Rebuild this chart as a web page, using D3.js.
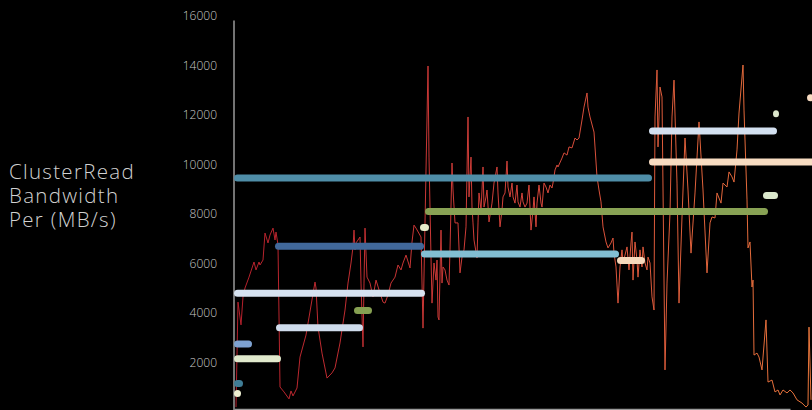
<!DOCTYPE html>
<html>
<head>
<meta charset="utf-8">
<script src="https://cdn.jsdelivr.net/npm/d3@7/dist/d3.min.js"></script>
<style>
  html, body { margin: 0; padding: 0; background: #000; }
  svg { display: block; }
  text { font-family: "Open Sans", "Noto Sans", sans-serif; }
</style>
</head>
<body>
<svg id="chart" width="812" height="410"></svg>
<script>
// Read bandwidth over time (seconds), MB/s
const lineTime = [2,4,7,9,11,15,20,22,25,26,29,31,34,36,39,41,42,44,46,50,55,57,59,63,66,72,81,82,84,88,93,98,101,106,111,114,117,119,120,121,122,126,127,129,130,131,133,136,139,142,146,149,151,154,157,161,164,167,169,172,176,178,180,182,187,189,194,195,197,198,200,202,203,204,205,207,208,209,211,213,215,216,218,219,221,224,226,228,230,232,234,235,237,238,239,240,243,244,245,247,248,249,250,252,253,255,258,260,263,264,266,268,269,271,273,274,276,278,279,281,283,284,286,288,289,291,293,295,297,299,300,302,303,305,307,308,310,312,314,316,318,319,321,323,324,328,330,333,335,338,341,343,345,348,350,353,354,356,360,363,365,367,369,372,374,377,379,380,382,384,386,388,389,391,393,395,397,398,399,401,403,404,406,408,409,411,413,414,416,418,420,421,423,424,426,428,431,433,436,438,440,443,445,448,451,454,457,461,465,469,473,476,478,481,483,487,489,493,495,498,500,503,505,509,510,513,514,516,518,519,520,523,525,528,532,534,538,541,544,546,549,553,556,559,563,568,572,574,575,577];
const lineValue = [200,4440,3520,4650,5010,5450,6060,5740,6060,5940,6140,7230,6830,7150,7430,6950,7270,6750,1010,810,530,850,650,970,2220,3110,5250,5010,3430,2380,1370,1580,1780,2790,4120,5210,6020,6670,7350,6550,6830,7070,5210,2630,5210,7430,5450,5210,4650,5330,4810,4440,4400,4730,5210,5450,5940,5740,6020,6340,5820,6870,7550,7430,7070,3390,13980,10300,6260,4400,6020,5330,6140,3840,3720,7350,5210,5860,5740,5330,5130,6550,10060,8970,7640,7640,5620,6260,6550,7480,11920,8690,10300,8280,7640,6950,6220,7640,8850,8160,8970,9900,8280,8690,8970,7680,8440,9250,9900,8850,7480,8160,8690,8850,10140,9090,8690,9250,8690,8440,9170,8490,8280,8850,8490,8280,8440,9170,7350,8160,8690,7480,8440,9170,8440,8280,9250,9090,8850,9170,9050,9250,9780,9980,9900,10260,10470,10380,10710,10670,11070,10990,11070,11800,12320,12890,12320,11920,11310,9500,8970,8490,7480,6870,6630,6830,7030,6420,5860,4400,5860,6550,6020,6340,6670,5740,6830,7270,5330,6870,6140,5450,6550,5860,6670,6020,5740,6260,6020,4650,4120,11920,13820,10710,13130,12730,1700,5210,8040,11920,13410,9250,4400,7880,11070,8970,6420,8850,11720,8970,5620,7640,7880,7840,8850,8440,9250,9090,9700,9500,9290,10590,12080,14020,12200,8570,6630,6870,5050,5330,2300,2380,2220,1700,3720,1210,1290,810,890,690,890,770,890,770,490,360,200,280,3430,490];

// Per-stage average bandwidth: start/end time and level
const segStart = [0, 41, 0, 42, 120, 0, 0, 0, 0, 186, 191, 187, 383, 415, 415, 529, 539, 573];
const segEnd   = [418, 190, 191, 129, 138, 18, 47, 9, 7, 195, 534, 385, 411, 543, 600, 544, 545, 580];
const segValue = [9450, 6700, 4800, 3400, 4100, 2750, 2150, 1150, 750, 7450, 8100, 6380, 6120, 11350, 10100, 8750, 12050, 12700];
const segPalette = ["#4f8ea8", "#41689a", "#d6e2f0", "#cfdcec", "#86a052", "#7ea2d1", "#e0e9cc", "#3f7d96", "#eef0d2",
                    "#e5ebc9", "#88a254", "#82bed2", "#f6d9bc", "#d3e0f0", "#f8dcc2", "#dbe8cc", "#dde8cc", "#f8dcc2"];

const yTicks = [2000, 4000, 6000, 8000, 10000, 12000, 14000, 16000];
const titleLines = ["ClusterRead", "Bandwidth", "Per (MB/s)"];

const svg = d3.select("#chart");
const x = d3.scaleLinear().domain([0, 556]).range([234, 790]);
const y = d3.scaleLinear().domain([0, 16000]).range([412, 16]);

// gradient for the bandwidth trace, red on the left to orange on the right
const defs = svg.append("defs");
const grad = defs.append("linearGradient")
  .attr("id", "traceGrad").attr("gradientUnits", "userSpaceOnUse")
  .attr("x1", x(0)).attr("x2", x(580)).attr("y1", 0).attr("y2", 0);
grad.append("stop").attr("offset", "0%").attr("stop-color", "#b41f2b");
grad.append("stop").attr("offset", "50%").attr("stop-color", "#d4433a");
grad.append("stop").attr("offset", "100%").attr("stop-color", "#e8763b");

// y axis labels
const yAxis = d3.axisLeft(y).tickValues(yTicks).tickSize(0).tickPadding(17).tickFormat(d3.format("d"));
const gy = svg.append("g").attr("transform", `translate(${x(0)},0)`).call(yAxis);
gy.select(".domain").remove();
gy.selectAll("text")
  .attr("fill", "#c8c8c8")
  .style("font-size", "12px")
  .style("font-weight", 300)
  .style("font-family", "'Open Sans', 'Noto Sans', sans-serif");
svg.append("line")
  .attr("x1", x(0)).attr("x2", x(0))
  .attr("y1", 20.5).attr("y2", y(0))
  .attr("stroke", "#9a9a9a").attr("stroke-width", 1.5);

// x axis baseline
const xAxis = d3.axisBottom(x).tickValues([]).tickSizeOuter(0);
const gx = svg.append("g").attr("transform", `translate(0,409)`).call(xAxis);
gx.select(".domain").attr("stroke", "#9a9a9a").attr("stroke-width", 1.5);

// y title, one text per line
svg.append("g").selectAll("text").data(titleLines).join("text")
  .attr("x", 9).attr("y", (d, i) => 179 + i * 24)
  .attr("fill", "#d2d2d2")
  .style("font-size", "20.5px").style("font-weight", 300)
  .style("letter-spacing", "1.3px")
  .text(d => d);

// bandwidth trace
const pts = lineTime.map((t, i) => [t, lineValue[i]]);
svg.append("path")
  .datum(pts)
  .attr("fill", "none")
  .attr("stroke", "url(#traceGrad)")
  .attr("stroke-width", 1)
  .attr("stroke-linejoin", "miter")
  .attr("d", d3.line().x(d => x(d[0])).y(d => y(d[1])));

// stage averages as rounded bars
const barH = 7;
const segs = segValue.map((v, i) => ({ s: segStart[i], e: segEnd[i], v, c: segPalette[i] }));
svg.append("g").selectAll("rect").data(segs).join("rect")
  .attr("x", d => x(d.s))
  .attr("width", d => x(d.e) - x(d.s))
  .attr("y", d => y(d.v) - barH / 2)
  .attr("height", barH)
  .attr("rx", barH / 2)
  .attr("fill", d => d.c);
</script>
</body>
</html>
